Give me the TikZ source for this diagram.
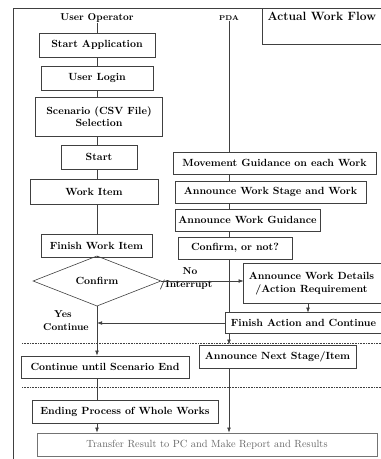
\documentclass[tikz,border=0pt]{standalone}
\usepackage{fontspec}
\usepackage{tikz}
\usetikzlibrary{arrows.meta,positioning,shapes.geometric}

\begin{document}
\begin{tikzpicture}[
  x=1pt,y=-1pt,
  box/.style={draw=black!75,rectangle,line width=0.6pt,inner sep=1pt,align=center,
    font=\fontsize{10.4}{12.5}\selectfont\bfseries},
  openbox/.style={box,draw=none},
  decision/.style={draw=black!75,diamond,line width=0.6pt,inner sep=0pt,
    font=\fontsize{10.4}{12.5}\selectfont\bfseries},
  lbl/.style={inner sep=0pt,font=\fontsize{10}{11}\selectfont\bfseries},
  line/.style={line width=0.6pt,black!75},
  arr/.style={line,-{Latex[length=1.8mm,width=1.3mm]}},
  sep/.style={densely dotted,line width=0.6pt,black!75}
]
\useasboundingbox (0,0) rectangle (381,459);

% frame and title
\draw[line] (13,459) -- (13,8) -- (262,8);
\node[openbox,font=\fontsize{12}{13}\selectfont\bfseries,anchor=north west,
  minimum width=119,minimum height=36,inner sep=0pt,text depth=20pt] (title) at (262,8) {Actual Work Flow};
\draw[line] ([xshift=20]title.north east) -| (title.south west) -- ([xshift=20]title.south east);

\node[lbl] (user) at (97,18) {User Operator};
\node[lbl,font=\fontsize{7}{8}\selectfont\bfseries] (pda) at (229,18) {PDA};

% user operator side
\node[box,minimum width=116,minimum height=24] (startapp) at (97,45) {Start Application};
\node[box,minimum width=112,minimum height=24] (login) at (97,78) {User Login};
\node[box,minimum width=127,minimum height=39] (scen) at (99,116.5) {Scenario (CSV File)\\Selection};
\node[box,minimum width=76,minimum height=24] (start) at (99,157) {Start};
\node[box,minimum width=128,minimum height=25] (workitem) at (94,191.5) {Work Item};
\node[box,minimum width=111,minimum height=23] (finish) at (96.5,245.5) {Finish Work Item};
\node[decision,minimum width=128,minimum height=43] (confirm) at (97,281) {Confirm};
\node[box,minimum width=168,minimum height=22] (contend) at (105,367) {Continue until Scenario End};
\node[box,minimum width=186,minimum height=23] (ending) at (125,411.5) {Ending Process of Whole Works};
\node[box,minimum width=340,minimum height=23,draw=black!55,
  font=\fontsize{10.4}{12}\selectfont,text=black!60] (transfer) at (207,444.5)
  {Transfer Result to PC and Make Report and Results};

% PDA side
\node[box,minimum width=203,minimum height=22] (move) at (274.5,163) {Movement Guidance on each Work};
\node[box,minimum width=191,minimum height=22] (stage) at (270.5,192) {Announce Work Stage and Work};
\node[box,minimum width=145,minimum height=22] (guid) at (247.5,220) {Announce Work Guidance};
\node[box,minimum width=114,minimum height=22] (cnot) at (235,248) {Confirm, or not?};
\node[openbox,minimum width=135,minimum height=39] (details) at (311.5,283.5) {Announce Work Details\\/Action Requirement};
\draw[line] ([xshift=20]details.north east) -| (details.south west) -- ([xshift=20]details.south east);
\node[openbox,minimum width=155,minimum height=20] (finact) at (303.5,323) {Finish Action and Continue};
\draw[line] ([xshift=20]finact.north east) -| (finact.south west) -- ([xshift=20]finact.south east);
\node[box,minimum width=157,minimum height=23] (next) at (277.5,356.5) {Announce Next Stage/Item};

\node[lbl] (no) at (190,271) {No};
\node[lbl] (intr) at (186,285) {/Interrupt};
\node[lbl] (yes) at (63,314) {Yes};
\node[lbl] (cont) at (66,327) {Continue};

% separators
\draw[sep] (22,343) -- (381,343);
\draw[sep] (22,387) -- (381,387);

% user operator flow
\draw[line] (user) -- (startapp);
\draw[line] (startapp) -- (login);
\draw[line] (login.south) -- (login.south |- scen.north);
\draw[line] (scen.south -| login) -- (start.north -| login);
\draw[line] (start.south -| login) -- (workitem.north -| login);
\draw[line] (workitem.south -| login) -- (finish.north -| login);
\draw[line] (finish.south -| login) -- (confirm.north);
\draw[arr] (confirm.south) -- (contend.north -| confirm);
\draw[line] (contend.south -| confirm) -- (ending.north -| confirm);
\draw[arr] (ending.south -| confirm) -- (transfer.north -| confirm);

% PDA flow
\draw[line] (pda) -- (pda |- move.north);
\draw[line] (move.south -| pda) -- (stage.north -| pda);
\draw[line] (stage.south -| pda) -- (guid.north -| pda);
\draw[line] (guid.south -| pda) -- (cnot.north -| pda);
\draw[line] (cnot.south -| pda) -- (finact.north -| pda);
\draw[arr] (finact.south -| pda) -- (next.north -| pda);
\draw[arr] (next.south -| pda) -- (transfer.north -| pda);

% branches
\draw[arr] (confirm.east) -- (confirm.east -| details.west);
\draw[arr] (details.south -| 308,0) -- (finact.north -| 308,0);
\draw[arr] (finact.west) -- (finact.west -| confirm.south);

\end{tikzpicture}
\end{document}
